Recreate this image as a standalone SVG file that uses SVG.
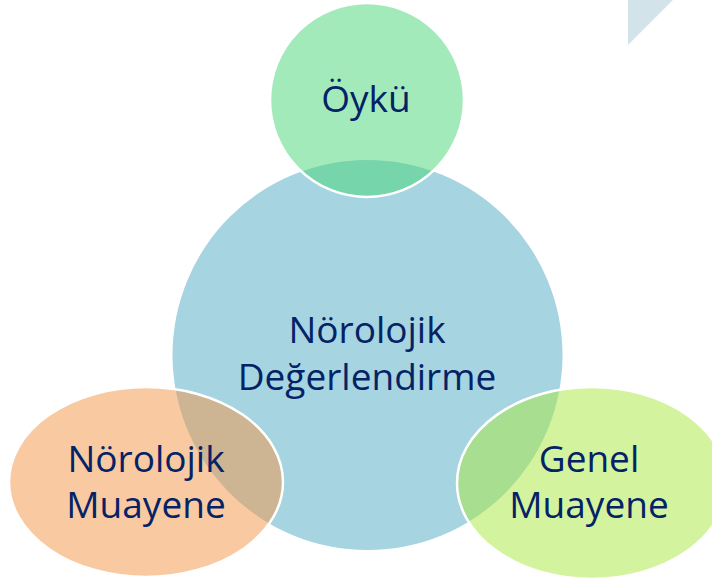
<svg xmlns="http://www.w3.org/2000/svg" width="712" height="583" viewBox="0 0 712 583">
<style>
.lbl{font-family:"Open Sans","Noto Sans","Liberation Sans",sans-serif;font-size:37px;fill:#042266;text-anchor:middle}
.sat{stroke:#FFFFFF;stroke-width:2.5;fill-opacity:0.5}
</style>
<rect width="712" height="583" fill="#FFFFFF"/>
<polygon points="628,0 673,0 628,45" fill="#D2E3EA"/>
<g id="center">
<circle cx="367.5" cy="355" r="195" fill="#A6D4E0"/>
</g>
<g id="oyku">
<circle class="sat" cx="367" cy="100" r="97" fill="#47D575"/>
<text class="lbl" x="366" y="112">Öykü</text>
</g>
<g id="norolojik-muayene">
<ellipse class="sat" cx="146" cy="482" rx="137" ry="95" fill="#F39345"/>
<text class="lbl" x="146" y="472">Nörolojik</text>
<text class="lbl" x="146" y="518">Muayene</text>
</g>
<g id="genel-muayene">
<ellipse class="sat" cx="592" cy="483" rx="135" ry="96" fill="#A7E73D"/>
<text class="lbl" x="589" y="472">Genel</text>
<text class="lbl" x="589" y="518">Muayene</text>
</g>
<g id="center-label">
<text class="lbl" x="367" y="343">Nörolojik</text>
<text class="lbl" x="367" y="390">Değerlendirme</text>
</g>
<g id="connectors"></g>
</svg>
